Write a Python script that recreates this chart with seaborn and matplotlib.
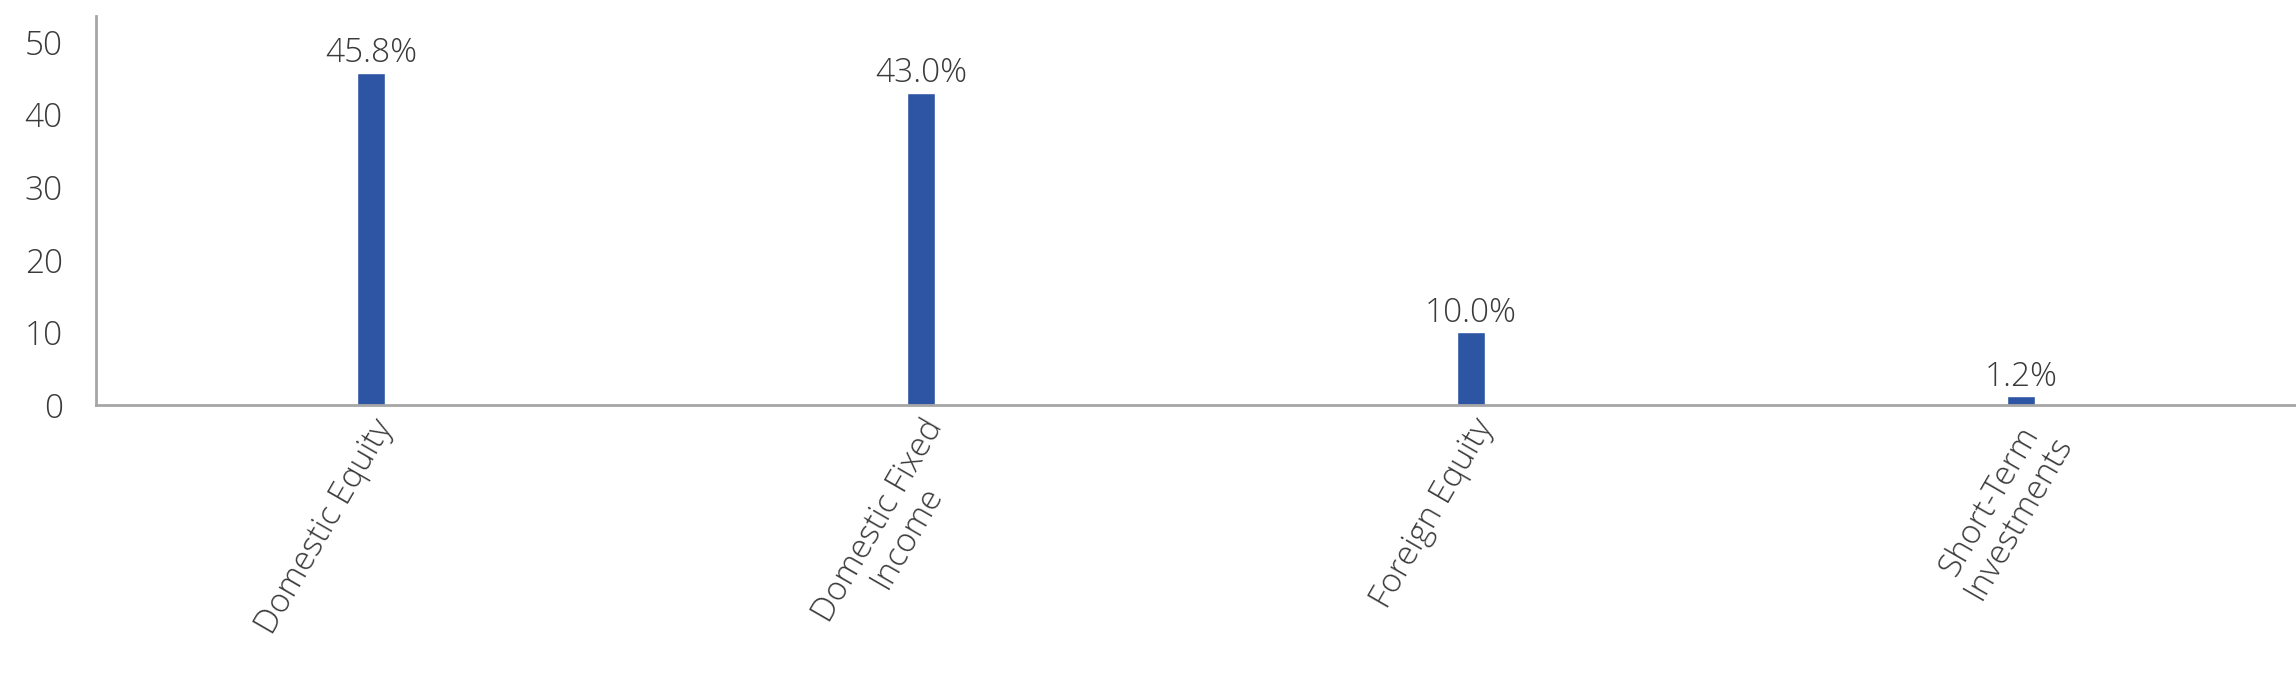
import matplotlib
matplotlib.use("Agg")
import matplotlib.pyplot as plt
import seaborn as sns
import pandas as pd

# asset allocation (percent)
categories = ["Domestic Equity", "Domestic Fixed\nIncome", "Foreign Equity", "Short-Term\nInvestments"]
values = [45.8, 43.0, 10.0, 1.2]
yticks = [0, 10, 20, 30, 40, 50]

BAR_COLOR = "#2E54A4"
TEXT_COLOR = "#3A3A3A"
AXIS_COLOR = "#A6A6A6"

sns.set_theme(style="white")
plt.rcParams["font.family"] = ["Open Sans", "DejaVu Sans"]
plt.rcParams["font.weight"] = "light"

df = pd.DataFrame({"category": categories, "value": values})

fig = plt.figure(figsize=(22.96, 6.92), dpi=100)
ax = fig.add_axes([96 / 2296, 1 - 405 / 692, 1 - 96 / 2296, (405 - 16) / 692])

sns.barplot(data=df, x="category", y="value", color=BAR_COLOR, width=0.05,
            saturation=1, ax=ax)

ax.set_ylim(0, 53.6)
ax.set_xlim(-0.5, len(categories) - 0.5)
ax.set_yticks(yticks)
ax.set_xlabel("")
ax.set_ylabel("")

# labels above bars
ax.bar_label(ax.containers[0], labels=[f"{v:.1f}%" for v in values],
             padding=2, fontsize=24, color=TEXT_COLOR)

ax.tick_params(axis="y", length=0, pad=24, labelsize=24, labelcolor=TEXT_COLOR)
ax.tick_params(axis="x", length=0, pad=6, labelsize=24, labelcolor=TEXT_COLOR)
for lbl in ax.get_xticklabels():
    lbl.set_rotation(60)
    lbl.set_ha("right")
    lbl.set_rotation_mode("anchor")
    lbl.set_multialignment("center")
    lbl.set_linespacing(1.0)

for side in ["top", "right"]:
    ax.spines[side].set_visible(False)
for side in ["left", "bottom"]:
    ax.spines[side].set_color(AXIS_COLOR)
    ax.spines[side].set_linewidth(2)

fig.savefig("out.png", dpi=100)
plt.close(fig)
